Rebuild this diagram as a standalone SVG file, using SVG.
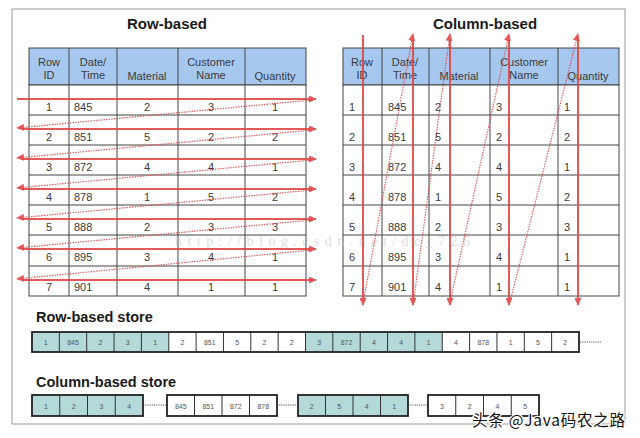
<svg xmlns="http://www.w3.org/2000/svg" width="640" height="438" viewBox="0 0 640 438">
<style>
.t{font-family:"Liberation Sans",Arial,sans-serif;font-size:11px;fill:#3a3a3a}
.c{text-anchor:middle}
.h{fill:#a6c8ef;stroke:#444;stroke-width:1}
.g{stroke:#444;stroke-width:1;fill:none}
.ttl{font-family:"Liberation Sans",Arial,sans-serif;font-weight:bold;fill:#1a1a1a}
.sol{stroke:#e04646;stroke-width:2;fill:none;opacity:0.9}
.dot{stroke:#e04646;stroke-width:1.2;stroke-dasharray:1.4 1.2;fill:none;opacity:0.9}
.s{font-family:"Liberation Sans",Arial,sans-serif;font-size:7px;fill:#555;text-anchor:middle}
.teal{fill:#b3d9d9}
.box{stroke:#222;stroke-width:1.8;fill:none}
.dv{stroke:#333;stroke-width:1}
.gd{stroke:#555;stroke-width:1;stroke-dasharray:1.2 1}
</style>
<defs>
<marker id="ah" markerUnits="userSpaceOnUse" markerWidth="9" markerHeight="7" refX="7" refY="3.5" orient="auto">
<path d="M0,0 L8,3.5 L0,7 z" fill="#e04646"/>
</marker>
</defs>
<rect x="0" y="0" width="640" height="438" fill="#fff"/>
<rect x="12" y="9" width="613" height="415" fill="#fff" stroke="#9a9a9a" stroke-width="1"/>

<text x="167" y="29" class="ttl c" font-size="15">Row-based</text>
<text x="485" y="29" class="ttl c" font-size="15">Column-based</text>

<g id="row-table">
<rect x="29" y="48" width="277" height="37" class="h"/>
<rect x="29" y="85" width="277" height="211" fill="#fff" stroke="#444"/>
<path class="g" d="M69,48V296M117,48V296M178,48V296M245,48V296M29,115H306M29,145H306M29,175H306M29,205H306M29,235H306M29,266H306"/>
<g class="t c">
<text x="49" y="66">Row</text><text x="49" y="79">ID</text>
<text x="93" y="66">Date/</text><text x="93" y="79">Time</text>
<text x="147" y="80">Material</text>
<text x="211" y="66">Customer</text><text x="211" y="79">Name</text>
<text x="275" y="80">Quantity</text>
</g>
<g class="t c">
<text x="49" y="111">1</text><text x="49" y="141">2</text><text x="49" y="171">3</text><text x="49" y="201">4</text><text x="49" y="231">5</text><text x="49" y="261">6</text><text x="49" y="291">7</text>
<text x="147" y="111">2</text><text x="147" y="141">5</text><text x="147" y="171">4</text><text x="147" y="201">1</text><text x="147" y="231">2</text><text x="147" y="261">3</text><text x="147" y="291">4</text>
<text x="211" y="111">3</text><text x="211" y="141">2</text><text x="211" y="171">4</text><text x="211" y="201">5</text><text x="211" y="231">3</text><text x="211" y="261">4</text><text x="211" y="291">1</text>
<text x="275" y="111">1</text><text x="275" y="141">2</text><text x="275" y="171">1</text><text x="275" y="201">2</text><text x="275" y="231">3</text><text x="275" y="261">1</text><text x="275" y="291">1</text>
</g>
<g class="t">
<text x="74" y="111">845</text><text x="74" y="141">851</text><text x="74" y="171">872</text><text x="74" y="201">878</text><text x="74" y="231">888</text><text x="74" y="261">895</text><text x="74" y="291">901</text>
</g>
</g>

<g id="column-table">
<rect x="343" y="48" width="276" height="37" class="h"/>
<rect x="343" y="85" width="276" height="211" fill="#fff" stroke="#444"/>
<path class="g" d="M382,48V296M429,48V296M490,48V296M558,48V296M343,115H619M343,145H619M343,175H619M343,205H619M343,235H619M343,266H619"/>
<g class="t c">
<text x="362" y="66">Row</text><text x="362" y="79">ID</text>
<text x="405" y="66">Date/</text><text x="405" y="79">Time</text>
<text x="459" y="80">Material</text>
<text x="524" y="66">Customer</text><text x="524" y="79">Name</text>
<text x="588" y="80">Quantity</text>
</g>
<g class="t">
<text x="349" y="111">1</text><text x="349" y="141">2</text><text x="349" y="171">3</text><text x="349" y="201">4</text><text x="349" y="231">5</text><text x="349" y="261">6</text><text x="349" y="291">7</text>
<text x="388" y="111">845</text><text x="388" y="141">851</text><text x="388" y="171">872</text><text x="388" y="201">878</text><text x="388" y="231">888</text><text x="388" y="261">895</text><text x="388" y="291">901</text>
<text x="435" y="111">2</text><text x="435" y="141">5</text><text x="435" y="171">4</text><text x="435" y="201">1</text><text x="435" y="231">2</text><text x="435" y="261">3</text><text x="435" y="291">4</text>
<text x="496" y="111">3</text><text x="496" y="141">2</text><text x="496" y="171">4</text><text x="496" y="201">5</text><text x="496" y="231">3</text><text x="496" y="261">4</text><text x="496" y="291">1</text>
<text x="564" y="111">1</text><text x="564" y="141">2</text><text x="564" y="171">1</text><text x="564" y="201">2</text><text x="564" y="231">3</text><text x="564" y="261">1</text><text x="564" y="291">1</text>
</g>
</g>

<text x="175" y="246" font-family="Liberation Serif,serif" font-size="14" fill="#c4c4c4" opacity="0.55" textLength="295">http://blog.csdn.net/dc_726</text>

<g id="connectors">
<g marker-end="url(#ah)">
<path class="sol" d="M17,99H316"/>
<path class="sol" d="M22,129H316"/>
<path class="sol" d="M22,159H316"/>
<path class="sol" d="M22,189H316"/>
<path class="sol" d="M22,219H316"/>
<path class="sol" d="M22,249H316"/>
<path class="sol" d="M22,280H316"/>
<path class="dot" d="M312,100L17,128"/>
<path class="dot" d="M312,130L17,158"/>
<path class="dot" d="M312,160L17,188"/>
<path class="dot" d="M312,190L17,218"/>
<path class="dot" d="M312,220L17,248"/>
<path class="dot" d="M312,250L17,279"/>
<path class="sol" d="M363,35V305"/>
<path class="sol" d="M413,40V305"/>
<path class="sol" d="M450,40V305"/>
<path class="sol" d="M509,40V305"/>
<path class="sol" d="M578,40V305"/>
<path class="dot" d="M364,298L413,34"/>
<path class="dot" d="M414,298L450,34"/>
<path class="dot" d="M451,298L509,34"/>
<path class="dot" d="M511,298L578,34"/>
</g>
<path class="gd" d="M580,342H601M143,405H166M277,405H297M408,405H428"/>
</g>

<text x="36" y="322" class="ttl" font-size="14.5">Row-based store</text>
<g id="row-store">
<rect x="32" y="332" width="136.75" height="20" class="teal"/>
<rect x="305.5" y="332" width="136.75" height="20" class="teal"/>
<path class="dv" d="M59.35,332V352M86.7,332V352M114.05,332V352M141.4,332V352M168.75,332V352M196.1,332V352M223.45,332V352M250.8,332V352M278.15,332V352M305.5,332V352M332.85,332V352M360.2,332V352M387.55,332V352M414.9,332V352M442.25,332V352M469.6,332V352M496.95,332V352M524.3,332V352M551.65,332V352"/>
<rect x="32" y="332" width="547" height="20" class="box"/>
<g class="s">
<text x="45.7" y="345">1</text><text x="73" y="345">845</text><text x="100.4" y="345">2</text><text x="127.7" y="345">3</text><text x="155.1" y="345">1</text>
<text x="182.4" y="345">2</text><text x="209.8" y="345">851</text><text x="237.1" y="345">5</text><text x="264.5" y="345">2</text><text x="291.8" y="345">2</text>
<text x="319.2" y="345">3</text><text x="346.5" y="345">872</text><text x="373.9" y="345">4</text><text x="401.2" y="345">4</text><text x="428.6" y="345">1</text>
<text x="455.9" y="345">4</text><text x="483.3" y="345">878</text><text x="510.6" y="345">1</text><text x="538" y="345">5</text><text x="565.3" y="345">2</text>
</g>
</g>

<text x="36" y="387" class="ttl" font-size="14.5">Column-based store</text>
<g id="column-store">
<g id="cs-rowid">
<rect x="32" y="395" width="111" height="21" class="teal"/>
<path class="dv" d="M59.75,395V416M87.5,395V416M115.25,395V416"/>
<rect x="32" y="395" width="111" height="21" class="box"/>
<g class="s"><text x="45.9" y="408.5">1</text><text x="73.6" y="408.5">2</text><text x="101.4" y="408.5">3</text><text x="129.1" y="408.5">4</text></g>
</g>
<g id="cs-date">
<rect x="167" y="395" width="110" height="21" fill="#fff"/>
<path class="dv" d="M194.5,395V416M222,395V416M249.5,395V416"/>
<rect x="167" y="395" width="110" height="21" class="box"/>
<g class="s"><text x="180.8" y="408.5">845</text><text x="208.3" y="408.5">851</text><text x="235.8" y="408.5">872</text><text x="263.3" y="408.5">878</text></g>
</g>
<g id="cs-material">
<rect x="298" y="395" width="110" height="21" class="teal"/>
<path class="dv" d="M325.5,395V416M353,395V416M380.5,395V416"/>
<rect x="298" y="395" width="110" height="21" class="box"/>
<g class="s"><text x="311.8" y="408.5">2</text><text x="339.3" y="408.5">5</text><text x="366.8" y="408.5">4</text><text x="394.3" y="408.5">1</text></g>
</g>
<g id="cs-customer">
<rect x="428" y="395" width="111" height="21" fill="#fff"/>
<path class="dv" d="M455.75,395V416M483.5,395V416M511.25,395V416"/>
<rect x="428" y="395" width="111" height="21" class="box"/>
<g class="s"><text x="441.9" y="408.5">3</text><text x="469.6" y="408.5">2</text><text x="497.4" y="408.5">4</text><text x="525.1" y="408.5">5</text></g>
</g>
</g>

<text x="472" y="426" font-family="Noto Sans CJK SC,sans-serif" font-size="15.5" fill="#111" stroke="#fff" stroke-width="2.5" paint-order="stroke" textLength="153">头条 @Java码农之路</text>
</svg>
